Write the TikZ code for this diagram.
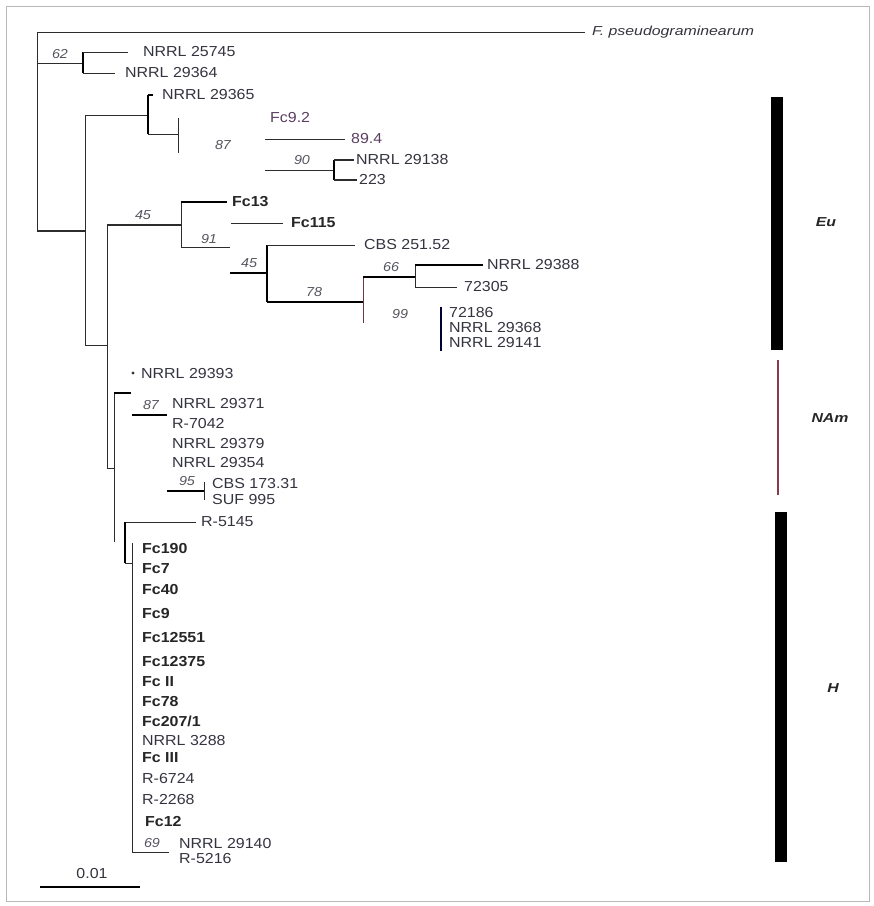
\documentclass[tikz,border=0pt]{standalone}
\usepackage{fontspec}
\newfontfamily\labfont{Liberation Sans}[FakeStretch=1.1]
\newfontfamily\widefont{Liberation Sans}[FakeStretch=1.22]
\usetikzlibrary{positioning}
\definecolor{ink}{HTML}{34343F}
\definecolor{lncol}{HTML}{2C2C2C}
\definecolor{bscol}{HTML}{55555F}
\definecolor{purp}{HTML}{5A3F5F}
\definecolor{namcol}{HTML}{8A3A4A}
\definecolor{framecol}{HTML}{B8B8B8}

\begin{document}
\begin{tikzpicture}[x=1pt,y=-1pt,
  brn/.style={draw=lncol,line width=0.8pt},
  mbrn/.style={draw=lncol,line width=1.4pt},
  tbrn/.style={draw=black,line width=2pt},
  lab/.style={font=\labfont\fontsize{14.5}{17}\selectfont,text=ink,inner sep=0pt,anchor=west},
  blab/.style={lab,font=\labfont\bfseries\fontsize{14.5}{17}\selectfont,text=black!85},
  bs/.style={font=\labfont\itshape\fontsize{13}{15}\selectfont,text=bscol,inner sep=0pt},
  clade/.style={font=\widefont\bfseries\itshape\fontsize{13}{15}\selectfont,text=black!85,inner sep=0pt}]
\useasboundingbox (0,0) rectangle (874,906);
\draw[framecol,line width=0.8pt] (6,6) rectangle (869,901);
% root and outgroup
\coordinate (root) at (37,32);
\coordinate (rootb) at (37,231);
\coordinate (efpg) at (585,32);
\draw[brn] (root) -- (efpg);
\node[lab,font=\widefont\itshape\fontsize{13}{15}\selectfont,right=7pt of efpg] (nfpg) {F. pseudograminearum};
\draw[brn] (root) -- (rootb);
% clade 62
\coordinate (j62) at (83,63);
\coordinate (e25745) at (128,52);
\coordinate (e29364) at (115,73);
\draw[brn] (root |- j62) -- (j62);
\draw[tbrn] (j62 |- e25745) -- (j62 |- e29364);
\draw[brn] (j62 |- e25745) -- (e25745);
\draw[brn] (j62 |- e29364) -- (e29364);
\node[bs] (b62) at (60,54) {62};
\node[lab,right=15pt of e25745] (n25745) {NRRL 25745};
\node[lab,right=10pt of e29364] (n29364) {NRRL 29364};
% Eu clade
\coordinate (jA) at (85,231);
\coordinate (jAt) at (85,115);
\coordinate (jAb) at (85,345);
\draw[mbrn] (rootb) -- (jA);
\draw[brn] (jAt) -- (jAb);
\coordinate (j365) at (148,115);
\coordinate (j365t) at (148,95);
\coordinate (j365b) at (148,134);
\coordinate (e29365) at (153,95);
\draw[brn] (jAt) -- (j365);
\draw[tbrn] (j365t) -- (j365b);
\draw[tbrn] (j365t) -- (e29365);
\node[lab,right=9pt of e29365] (n29365) {NRRL 29365};
\coordinate (j87) at (178,134);
\draw[brn] (j365b) -- (j87);
\draw[brn] ([yshift=16pt]j87) -- ([yshift=-19pt]j87);
\node[bs] (b87) at (223,145) {87};
\node[lab,text=purp] (nfc92) at (270,118) {Fc9.2};
\coordinate (s894) at (265,139);
\coordinate (e894) at (345,139);
\draw[brn] (s894) -- (e894);
\node[lab,text=purp,right=6pt of e894] (n894) {89.4};
\coordinate (s90) at (265,170);
\coordinate (j90) at (334,170);
\coordinate (e29138) at (354,160);
\coordinate (e223) at (357,180);
\draw[brn] (s90) -- (j90);
\node[bs] (b90) at (302,160) {90};
\draw[tbrn] (j90 |- e29138) -- (j90 |- e223);
\draw[mbrn] (j90 |- e29138) -- (e29138);
\draw[mbrn] (j90 |- e223) -- (e223);
\node[lab,right=2pt of e29138] (n29138) {NRRL 29138};
\node[lab,right=2pt of e223] (n223) {223};
% clade 45
\coordinate (jB) at (107,345);
\coordinate (jBt) at (107,225);
\coordinate (jBb) at (107,468);
\draw[brn] (jAb) -- (jB);
\draw[brn] (jBt) -- (jBb);
\coordinate (j45) at (181,225);
\draw[mbrn] (jBt) -- (j45);
\node[bs] (b45) at (143,215) {45};
\coordinate (efc13) at (227,202);
\coordinate (e91) at (230,247);
\draw[brn] (j45 |- efc13) -- (j45 |- e91);
\draw[tbrn] (j45 |- efc13) -- (efc13);
\draw[brn] (j45 |- e91) -- (e91);
\node[blab,right=5pt of efc13] (nfc13) {Fc13};
\node[bs] (b91) at (209,239) {91};
\coordinate (s115) at (231,223);
\coordinate (e115) at (283,223);
\draw[brn] (s115) -- (e115);
\node[blab,right=8pt of e115] (nfc115) {Fc115};
\coordinate (s45b) at (230,273);
\coordinate (j45b) at (267,273);
\draw[tbrn] (s45b) -- (j45b);
\node[bs] (b45b) at (249,263) {45};
\coordinate (ecbs) at (355,245);
\coordinate (j78) at (363,302);
\draw[tbrn] (j45b |- ecbs) -- (j45b |- j78);
\draw[brn] (j45b |- ecbs) -- (ecbs);
\node[lab,right=9pt of ecbs] (ncbs) {CBS 251.52};
\draw[tbrn] (j45b |- j78) -- (j78);
\node[bs] (b78) at (314,292) {78};
\coordinate (j66) at (415,277);
\draw[draw=namcol!70!lncol,line width=0.8pt] (j78 |- j66) -- ([yshift=-21pt]j78);
\draw[tbrn] (j78 |- j66) -- (j66);
\node[bs] (b66) at (391,267) {66};
\coordinate (e29388) at (483,265);
\coordinate (e72305) at (457,287);
\draw[brn] (j66 |- e29388) -- (j66 |- e72305);
\draw[tbrn] (j66 |- e29388) -- (e29388);
\draw[brn] (j66 |- e72305) -- (e72305);
\node[lab,right=4pt of e29388] (n29388) {NRRL 29388};
\node[lab,right=7pt of e72305] (n72305) {72305};
\node[bs] (b99) at (400,314) {99};
\coordinate (bar99t) at (441,307);
\coordinate (bar99b) at (441,351);
\draw[draw=black!80!blue,line width=2.2pt] (bar99t) -- (bar99b);
\node[lab] (n72186) at (449,313) {72186};
\node[lab,below=4pt of n72186.south west,anchor=north west] (n29368) {NRRL 29368};
\node[lab,below=4pt of n29368.south west,anchor=north west] (n29141) {NRRL 29141};
% NAm clade
\fill[ink] (133,373) circle (1.6);
\node[lab] (n29393) at (141,374) {NRRL 29393};
\coordinate (jC) at (114,468);
\coordinate (jCt) at (114,393);
\coordinate (jCb) at (114,542);
\draw[brn] (jBb) -- (jC);
\draw[brn] (jCt) -- (jCb);
\draw[tbrn] (jCt) -- ++(17,0);
\coordinate (s87) at (132,415);
\coordinate (e87) at (167,415);
\draw[tbrn] (s87) -- (e87);
\node[bs] (b87b) at (151,405) {87};
\node[lab] (n29371) at (172,404) {NRRL 29371};
\node[lab] (n7042) at (172,424) {R-7042};
\node[lab] (n29379) at (172,443) {NRRL 29379};
\node[lab] (n29354) at (172,463) {NRRL 29354};
\coordinate (s95) at (167,491);
\coordinate (j95) at (204,491);
\draw[tbrn] (s95) -- (j95);
\draw[brn] ([yshift=9pt]j95) -- ([yshift=-9pt]j95);
\node[bs] (b95) at (187,481) {95};
\node[lab] (ncbs2) at (212,483) {CBS 173.31};
\node[lab] (nsuf) at (212,500) {SUF 995};
% H clade
\coordinate (jD) at (125,522);
\coordinate (e5145) at (196,522);
\coordinate (jDb) at (125,563);
\draw[brn] (jD) -- (e5145);
\node[lab,right=5pt of e5145] (n5145) {R-5145};
\draw[tbrn] (jD) -- (jDb);
\coordinate (jE) at (132,563);
\coordinate (jEt) at (132,543);
\coordinate (jEb) at (132,852);
\draw[brn] (jDb) -- (jE);
\draw[brn] (jEt) -- (jEb);
\coordinate (e69) at (169,852);
\draw[brn] (jEb) -- (e69);
\node[bs] (b69) at (152,843) {69};
\node[lab] (n29140) at (179,843) {NRRL 29140};
\node[lab] (n5216) at (179,858) {R-5216};
\node[blab] (nfc190) at (142,548) {Fc190};
\node[blab] (nfc7) at (142,569) {Fc7};
\node[blab] (nfc40) at (142,589) {Fc40};
\node[blab] (nfc9) at (142,613) {Fc9};
\node[blab] (nfc12551) at (142,637) {Fc12551};
\node[blab] (nfc12375) at (142,662) {Fc12375};
\node[blab] (nfcII) at (142,682) {Fc II};
\node[blab] (nfc78) at (142,701) {Fc78};
\node[blab] (nfc207) at (142,721) {Fc207/1};
\node[lab] (n3288) at (142,740) {NRRL 3288};
\node[blab] (nfcIII) at (142,758) {Fc III};
\node[lab] (n6724) at (142,778) {R-6724};
\node[lab] (n2268) at (142,799) {R-2268};
\node[blab] (nfc12) at (145,821) {Fc12};
% scale
\coordinate (sc0) at (40,887);
\coordinate (sc1) at (140,887);
\draw[line width=2pt] (sc0) -- (sc1);
\node[lab,anchor=center] (nsc) at (92,873) {0.01};
% groups
\fill[black] (771,97) rectangle (783,350);
\draw[namcol,line width=1.5pt] (778,360) -- (778,495);
\fill[black] (775,512) rectangle (787,862);
\node[clade] (geu) at (826,222) {Eu};
\node[clade] (gnam) at (830,418) {NAm};
\node[clade] (gh) at (833,688) {H};
\end{tikzpicture}
\end{document}
